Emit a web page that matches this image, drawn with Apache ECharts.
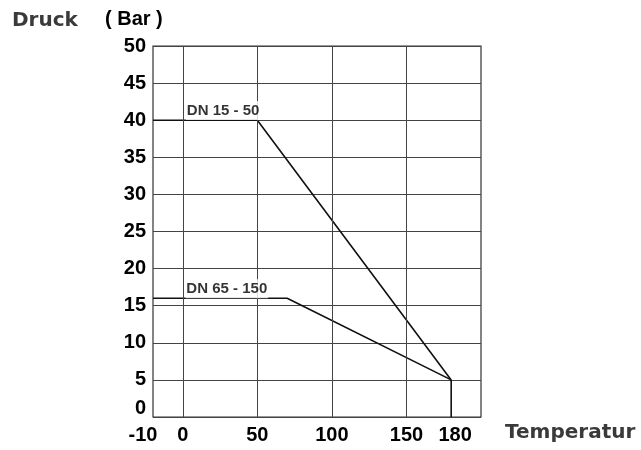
<!DOCTYPE html>
<html>
<head>
<meta charset="utf-8">
<script src="https://cdn.jsdelivr.net/npm/echarts@6/dist/echarts.min.js"></script>
<style>html,body{margin:0;padding:0;background:#fff;}#c{width:641px;height:450px;}</style>
</head>
<body>
<div id="c"></div>
<script>
// Data
const dn1550 = [[-20, 40], [50, 40], [180, 5]];
const dn65150 = [[-20, 16], [70, 16], [180, 5]];
const limitDrop = [[180, 5], [180, 0]];
const xTickValues = [-20, 0, 50, 100, 150, 180];
const xTickLabels = ['-10', '0', '50', '100', '150', '180'];
const xGridValues = [0, 50, 100, 150];
const seriesLabels = [
  { text: 'DN 15 - 50', coord: [27, 41.3] },
  { text: 'DN 65 - 150', coord: [29.5, 17.3] }
];

const chart = echarts.init(document.getElementById('c'));
const lineStyle = { color: '#111', width: 1.6 };
const tickFont = { fontFamily: '"Liberation Sans", Arial, sans-serif', fontWeight: 'bold', fontSize: 20, color: '#000' };

chart.setOption({
  animation: false,
  grid: { left: 153, right: 160, top: 46, bottom: 33, show: true, borderColor: '#333', borderWidth: 1.2 },
  xAxis: {
    type: 'value', min: -20, max: 200, interval: 10,
    axisLine: { show: false }, axisTick: { show: false }, splitLine: { show: false },
    axisLabel: Object.assign({}, tickFont, {
      margin: 8,
      formatter: function (v) {
        const i = xTickValues.indexOf(v);
        if (i < 0) return '';
        if (v === -20) return '{l|' + xTickLabels[i] + '}';
        if (v === 180) return '{r|' + xTickLabels[i] + '}';
        return xTickLabels[i];
      },
      rich: {
        l: Object.assign({}, tickFont, { padding: [0, 20, 0, 0] }),
        r: Object.assign({}, tickFont, { padding: [0, 0, 0, 8] })
      }
    })
  },
  yAxis: {
    type: 'value', min: 0, max: 50, interval: 5,
    axisLine: { show: false }, axisTick: { show: false },
    splitLine: { show: true, lineStyle: { color: '#444', width: 1 } },
    axisLabel: Object.assign({}, tickFont, {
      margin: 7,
      formatter: function (v) { return v === 0 ? '{z|0}' : String(v); },
      rich: { z: Object.assign({}, tickFont, { padding: [0, 0, 18, 0] }) }
    })
  },
  graphic: [
    { type: 'text', left: 12, top: 11, style: { text: 'Druck', font: 'bold 20px "DejaVu Sans"', fill: '#3a3a3a' } },
    { type: 'text', left: 105, top: 9, style: { text: '( Bar )', font: 'bold 20px "Liberation Sans", Arial', fill: '#000' } },
    { type: 'text', left: 505, top: 423, style: { text: 'Temperatur', font: 'bold 20px "DejaVu Sans"', fill: '#3a3a3a' } }
  ],
  series: [
    {
      type: 'line', data: [], silent: true, z: 1,
      markLine: {
        silent: true, symbol: 'none', label: { show: false },
        lineStyle: { color: '#444', width: 1, type: 'solid' },
        data: xGridValues.map(v => ({ xAxis: v }))
      }
    },
    { name: 'DN 15 - 50', type: 'line', data: dn1550, symbol: 'none', lineStyle: lineStyle, z: 3 },
    { name: 'DN 65 - 150', type: 'line', data: dn65150, symbol: 'none', lineStyle: lineStyle, z: 3 },
    { type: 'line', data: limitDrop, symbol: 'none', lineStyle: lineStyle, z: 3 },
    {
      type: 'scatter', symbolSize: 0, z: 5, silent: true,
      data: seriesLabels.map(d => ({ value: d.coord, name: d.text })),
      label: {
        show: true, position: 'inside', formatter: p => p.name,
        fontFamily: '"Liberation Sans", Arial, sans-serif', fontWeight: 'bold', fontSize: 15, color: '#000',
        backgroundColor: '#fff', padding: [3, 1, 1, 1]
      }
    }
  ]
});
</script>
</body>
</html>
